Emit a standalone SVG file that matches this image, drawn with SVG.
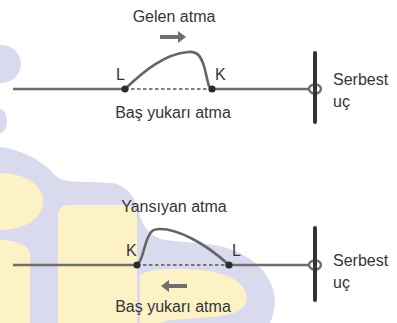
<svg xmlns="http://www.w3.org/2000/svg" width="397" height="323" viewBox="0 0 397 323">
<defs>
<style>
.t{font-family:"Liberation Sans",Arial,sans-serif;font-size:16px;fill:#353535}
.base{stroke:#6e6e6e;stroke-width:2.5;fill:none}
.dash{stroke:#555;stroke-width:1.3;stroke-dasharray:3.5 2.5;fill:none}
.pulse{stroke:#666;stroke-width:2.6;fill:none;stroke-linecap:round}
.wall{stroke:#333;stroke-width:4;stroke-linecap:round}
.ring{stroke:#6e6e6e;stroke-width:2.4;fill:none}
.dot{fill:#2b2b2b}
.arr{fill:#6e6e6e}
.lav{fill:#dadaef}
.yel{fill:#fdf1c6}
</style>
</defs>
<rect width="397" height="323" fill="#fff"/>
<g id="watermark">
<circle class="lav" cx="2" cy="64" r="19"/>
<ellipse class="lav" cx="0" cy="121" rx="7" ry="12"/>
<path class="lav" d="M0,147 C20,150 40,158 55,175 C60,181 70,182 90,182 L110,183 C125,184 135,195 139,212 C142,226 150,237 165,240 L215,245 C238,250 258,260 268,278 C278,295 276,310 270,323 L0,323 Z"/>
<path class="yel" d="M0,173 C25,173 43,185 43,201 C43,218 25,230 0,230 Z"/>
<path class="yel" d="M0,240 C15,240 30,245 30,255 L30,323 L0,323 Z"/>
<path class="yel" d="M58,323 L58,215 C58,209 62,205 68,205 L125,205 C133,205 137,211 137,218 L137,323 Z"/>
<path class="yel" d="M140,323 L140,275 C150,269 170,268 200,270 C230,272 247,285 247,298 C247,310 232,316 210,317 L170,320 L160,323 Z"/>
</g>
<g id="connectors">
<line class="base" x1="13" y1="89" x2="125" y2="89"/>
<line class="dash" x1="125" y1="89" x2="212" y2="89"/>
<line class="base" x1="212" y1="89" x2="309" y2="89"/>
<line class="base" x1="13" y1="265" x2="137" y2="265"/>
<line class="dash" x1="137" y1="265" x2="229" y2="265"/>
<line class="base" x1="229" y1="265" x2="309" y2="265"/>
</g>
<g id="top-panel">
<text class="t" x="174" y="22" text-anchor="middle">Gelen atma</text>
<path class="arr" d="M160,35 L178,35 L178,31 L186,37 L178,43 L178,39 L160,39 Z"/>
<path class="pulse" d="M125,89 C145,70 165,54 188,52 C198,51 201,57 204,66 C206,73 207,80 209,86"/>
<circle class="dot" cx="125" cy="89" r="3.6"/>
<circle class="dot" cx="212" cy="89" r="3.6"/>
<text class="t" x="116" y="80">L</text>
<text class="t" x="215" y="80">K</text>
<text class="t" x="173" y="118" text-anchor="middle">Baş yukarı atma</text>
<ellipse class="ring" cx="315" cy="89" rx="6" ry="4.5"/>
<line class="wall" x1="315" y1="53" x2="315" y2="122"/>
<text class="t" x="333" y="85">Serbest</text>
<text class="t" x="333" y="107">uç</text>
</g>
<g id="bottom-panel">
<text class="t" x="174" y="212" text-anchor="middle">Yansıyan atma</text>
<path class="arr" d="M187,284 L169,284 L169,280 L161,286 L169,292 L169,288 L187,288 Z"/>
<path class="pulse" d="M137,265 C142,262 143,250 147,240 C150,232 152,229 160,229 C178,229 205,243 229,265"/>
<circle class="dot" cx="137" cy="265" r="3.6"/>
<circle class="dot" cx="229" cy="265" r="3.6"/>
<text class="t" x="126" y="256">K</text>
<text class="t" x="232" y="256">L</text>
<text class="t" x="173" y="312" text-anchor="middle">Baş yukarı atma</text>
<ellipse class="ring" cx="315" cy="265" rx="6" ry="4.5"/>
<line class="wall" x1="315" y1="228" x2="315" y2="300"/>
<text class="t" x="333" y="266">Serbest</text>
<text class="t" x="333" y="288">uç</text>
</g>
</svg>
